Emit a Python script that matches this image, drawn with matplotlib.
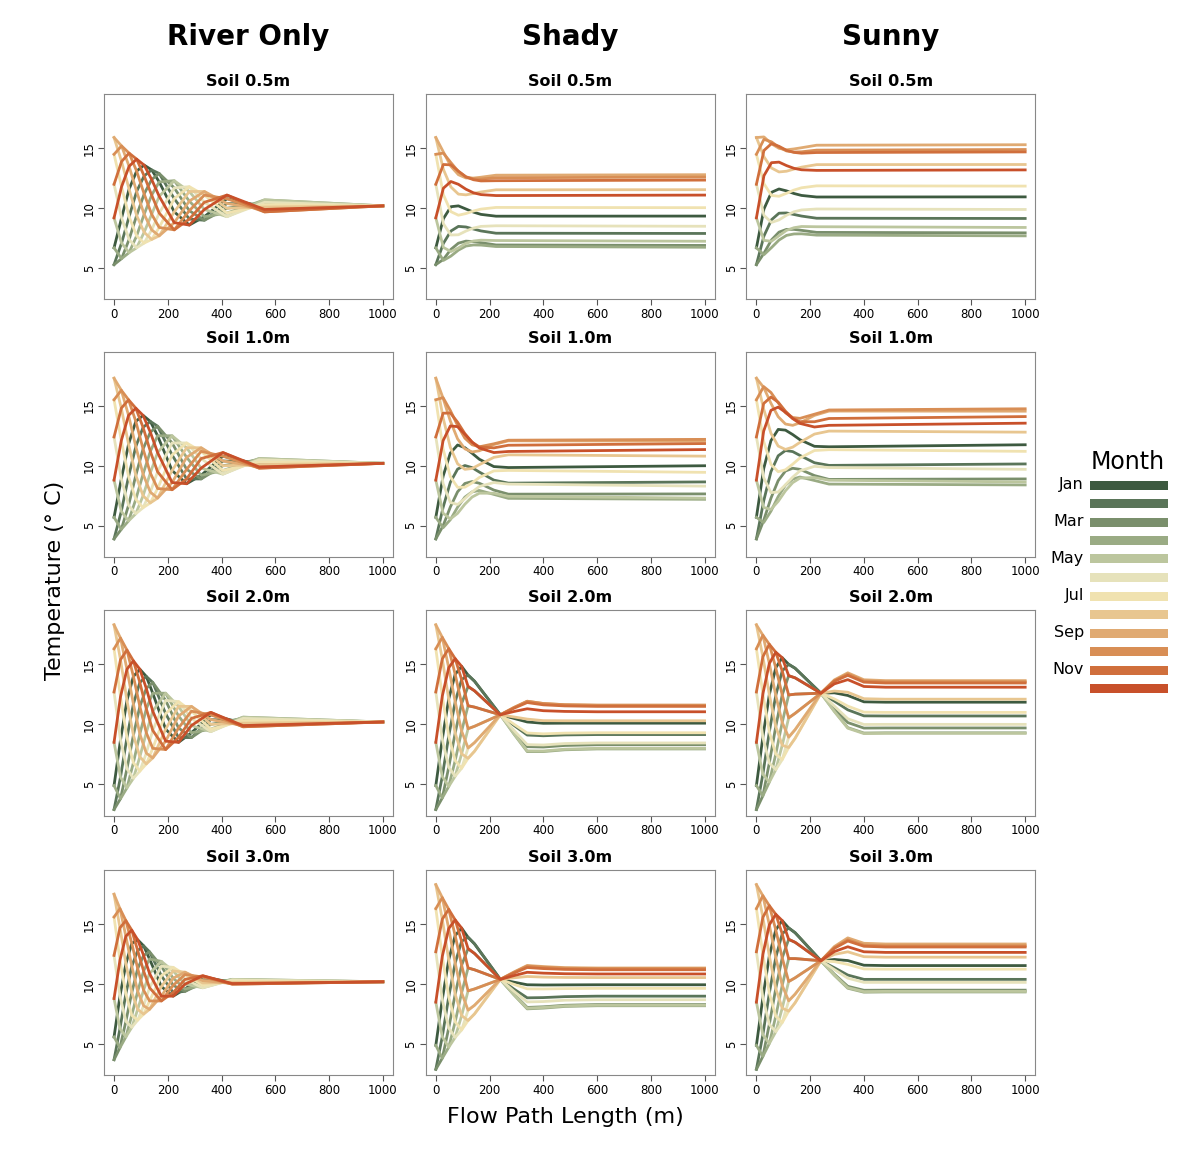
import numpy as np
import matplotlib
matplotlib.use("Agg")
import matplotlib.pyplot as plt
from matplotlib.patches import Rectangle

months = ["Jan", "Feb", "Mar", "Apr", "May", "Jun", "Jul", "Aug", "Sep", "Oct", "Nov", "Dec"]
month_colors = ["#3d5a40", "#5a7559", "#7a8f6c", "#9aab84", "#bcc69e", "#e6e2bb",
                "#f0e2b0", "#e8c690", "#e0aa72", "#d88e55", "#d06f3c", "#c8502a"]
depths = ["Soil 0.5m", "Soil 1.0m", "Soil 2.0m", "Soil 3.0m"]
columns = ["River Only", "Shady", "Sunny"]

# ---- River Only: temperature profiles, one list per distance (Jan..Dec) ----
x_ro05 = [0, 28, 56, 84, 112, 140, 168, 224, 280, 336, 420, 560, 1000]
ro05 = [
    [6.7, 5.3, 5.3, 6.7, 9.2, 12.0, 14.5, 15.9, 15.9, 14.5, 12.0, 9.2],
    [9.2, 7.1, 5.8, 5.8, 7.1, 9.2, 11.8, 13.9, 15.2, 15.2, 13.9, 11.8],
    [11.6, 9.3, 7.4, 6.3, 6.3, 7.4, 9.3, 11.6, 13.5, 14.6, 14.6, 13.5],
    [13.1, 11.4, 9.4, 7.7, 6.7, 6.7, 7.7, 9.4, 11.4, 13.1, 14.1, 14.1],
    [13.6, 12.7, 11.2, 9.5, 8.0, 7.1, 7.1, 8.0, 9.5, 11.2, 12.7, 13.6],
    [13.2, 13.2, 12.4, 11.1, 9.5, 8.2, 7.4, 7.4, 8.2, 9.5, 11.1, 12.4],
    [12.2, 12.9, 12.9, 12.2, 11.0, 9.6, 8.4, 7.7, 7.7, 8.4, 9.6, 11.0],
    [9.7, 10.8, 11.7, 12.3, 12.3, 11.7, 10.8, 9.7, 8.8, 8.2, 8.2, 8.8],
    [8.6, 9.1, 9.8, 10.6, 11.4, 11.8, 11.8, 11.4, 10.6, 9.8, 9.1, 8.6],
    [9.3, 9.0, 9.0, 9.3, 9.9, 10.5, 11.1, 11.4, 11.4, 11.1, 10.5, 9.9],
    [10.8, 10.4, 10.0, 9.6, 9.3, 9.3, 9.6, 10.0, 10.4, 10.8, 11.1, 11.1],
    [10.1, 10.3, 10.5, 10.7, 10.7, 10.5, 10.3, 10.1, 9.9, 9.7, 9.7, 9.9],
    [10.2] * 12,
]
x_ro10 = [0, 27, 54, 81, 108, 135, 162, 216, 270, 324, 405, 540, 1000]
ro10 = [
    [5.7, 3.9, 3.9, 5.7, 8.8, 12.4, 15.5, 17.3, 17.3, 15.5, 12.4, 8.8],
    [8.9, 6.2, 4.7, 4.7, 6.2, 8.9, 12.1, 14.8, 16.3, 16.3, 14.8, 12.1],
    [11.8, 9.1, 6.7, 5.4, 5.4, 6.7, 9.1, 11.8, 14.2, 15.5, 15.5, 14.2],
    [13.7, 11.6, 9.2, 7.2, 6.0, 6.0, 7.2, 9.2, 11.6, 13.7, 14.8, 14.8],
    [14.2, 13.2, 11.4, 9.3, 7.5, 6.5, 6.5, 7.5, 9.3, 11.4, 13.2, 14.2],
    [13.7, 13.7, 12.8, 11.2, 9.4, 7.8, 6.9, 6.9, 7.8, 9.4, 11.2, 12.8],
    [12.5, 13.3, 13.3, 12.5, 11.1, 9.5, 8.1, 7.3, 7.3, 8.1, 9.5, 11.1],
    [9.6, 10.9, 11.9, 12.5, 12.5, 11.9, 10.9, 9.6, 8.6, 8.0, 8.0, 8.6],
    [8.5, 8.9, 9.7, 10.7, 11.5, 11.9, 11.9, 11.5, 10.7, 9.7, 8.9, 8.5],
    [9.2, 8.9, 8.9, 9.2, 9.8, 10.6, 11.2, 11.5, 11.5, 11.2, 10.6, 9.8],
    [10.8, 10.4, 10.0, 9.6, 9.3, 9.3, 9.6, 10.0, 10.4, 10.8, 11.1, 11.1],
    [10.1, 10.3, 10.5, 10.6, 10.6, 10.5, 10.3, 10.1, 9.9, 9.8, 9.8, 9.9],
    [10.2] * 12,
]
x_ro20 = [0, 24, 48, 72, 96, 120, 144, 192, 240, 288, 360, 480, 1000]
ro20 = [
    [4.9, 2.9, 2.9, 4.9, 8.5, 12.7, 16.3, 18.3, 18.3, 16.3, 12.7, 8.5],
    [8.7, 5.6, 3.8, 3.8, 5.6, 8.7, 12.3, 15.4, 17.2, 17.2, 15.4, 12.3],
    [12.0, 8.9, 6.3, 4.7, 4.7, 6.3, 8.9, 12.0, 14.6, 16.2, 16.2, 14.6],
    [14.0, 11.7, 9.1, 6.8, 5.5, 5.5, 6.8, 9.1, 11.7, 14.0, 15.3, 15.3],
    [14.6, 13.5, 11.5, 9.2, 7.3, 6.1, 6.1, 7.3, 9.2, 11.5, 13.5, 14.6],
    [14.0, 14.0, 13.0, 11.3, 9.3, 7.6, 6.7, 6.7, 7.6, 9.3, 11.3, 13.0],
    [12.6, 13.5, 13.5, 12.6, 11.1, 9.5, 8.0, 7.2, 7.2, 8.0, 9.5, 11.1],
    [9.6, 10.9, 12.0, 12.6, 12.6, 12.0, 10.9, 9.6, 8.6, 7.9, 7.9, 8.6],
    [8.5, 8.9, 9.7, 10.7, 11.5, 11.9, 11.9, 11.5, 10.7, 9.7, 8.9, 8.5],
    [9.3, 8.9, 8.9, 9.3, 9.9, 10.5, 11.1, 11.5, 11.5, 11.1, 10.5, 9.9],
    [10.8, 10.4, 10.0, 9.6, 9.4, 9.4, 9.6, 10.0, 10.4, 10.8, 11.0, 11.0],
    [10.1, 10.3, 10.5, 10.6, 10.6, 10.5, 10.3, 10.1, 9.9, 9.8, 9.8, 9.9],
    [10.2] * 12,
]
x_ro30 = [0, 22, 44, 66, 88, 110, 132, 176, 220, 264, 330, 440, 1000]
ro30 = [
    [5.6, 3.7, 3.7, 5.6, 8.8, 12.4, 15.6, 17.5, 17.5, 15.6, 12.4, 8.8],
    [9.0, 6.3, 4.7, 4.7, 6.3, 9.0, 12.0, 14.7, 16.3, 16.3, 14.7, 12.0],
    [11.7, 9.2, 6.9, 5.6, 5.6, 6.9, 9.2, 11.7, 14.0, 15.3, 15.3, 14.0],
    [13.4, 11.5, 9.3, 7.4, 6.4, 6.4, 7.4, 9.3, 11.5, 13.4, 14.5, 14.5],
    [13.7, 12.8, 11.3, 9.4, 7.9, 7.0, 7.0, 7.9, 9.4, 11.3, 12.8, 13.7],
    [13.2, 13.2, 12.4, 11.1, 9.5, 8.2, 7.5, 7.5, 8.2, 9.5, 11.1, 12.4],
    [12.1, 12.7, 12.7, 12.1, 10.9, 9.7, 8.6, 7.9, 7.9, 8.6, 9.7, 10.9],
    [9.8, 10.7, 11.5, 11.9, 11.9, 11.5, 10.7, 9.8, 9.0, 8.6, 8.6, 9.0],
    [9.0, 9.3, 9.9, 10.5, 11.1, 11.4, 11.4, 11.1, 10.5, 9.9, 9.3, 9.0],
    [9.6, 9.4, 9.4, 9.6, 10.0, 10.4, 10.8, 11.0, 11.0, 10.8, 10.4, 10.0],
    [10.6, 10.3, 10.1, 9.9, 9.7, 9.7, 9.9, 10.1, 10.3, 10.6, 10.7, 10.7],
    [10.15, 10.25, 10.35, 10.4, 10.4, 10.35, 10.25, 10.15, 10.05, 10.0, 10.0, 10.05],
    [10.2] * 12,
]

# ---- Shady / Sunny: one row per month (Jan..Dec) ----
x_s05 = [0, 28, 56, 84, 112, 140, 168, 224, 1000]
shady05 = [
    [6.7, 9.13, 10.13, 10.2, 9.94, 9.68, 9.49, 9.34, 9.35],
    [5.3, 7.07, 8.1, 8.49, 8.44, 8.27, 8.11, 7.92, 7.9],
    [5.3, 5.73, 6.57, 7.09, 7.26, 7.22, 7.13, 6.94, 6.9],
    [6.7, 5.65, 6.01, 6.51, 6.85, 6.94, 6.93, 6.81, 6.75],
    [9.2, 6.74, 6.39, 6.69, 7.08, 7.27, 7.34, 7.31, 7.25],
    [12.0, 8.71, 7.77, 7.79, 8.1, 8.35, 8.49, 8.54, 8.5],
    [14.5, 11.14, 9.72, 9.42, 9.56, 9.77, 9.93, 10.07, 10.05],
    [15.9, 13.25, 11.78, 11.18, 11.12, 11.23, 11.36, 11.54, 11.55],
    [15.9, 14.7, 13.5, 12.8, 12.53, 12.52, 12.59, 12.76, 12.8],
    [14.5, 14.6, 13.81, 13.06, 12.62, 12.46, 12.44, 12.55, 12.6],
    [12.0, 13.65, 13.62, 13.1, 12.62, 12.38, 12.28, 12.3, 12.35],
    [9.2, 11.67, 12.23, 12.0, 11.59, 11.29, 11.14, 11.06, 11.1],
]
sunny05 = [
    [6.7, 9.94, 11.33, 11.61, 11.45, 11.23, 11.07, 10.94, 10.95],
    [5.3, 7.69, 9.04, 9.59, 9.61, 9.48, 9.35, 9.17, 9.15],
    [5.3, 6.25, 7.36, 8.01, 8.24, 8.24, 8.16, 7.99, 7.95],
    [6.7, 6.13, 6.72, 7.35, 7.74, 7.86, 7.87, 7.76, 7.7],
    [9.2, 7.32, 7.25, 7.71, 8.16, 8.38, 8.48, 8.46, 8.4],
    [12.0, 9.41, 8.82, 9.03, 9.42, 9.71, 9.86, 9.94, 9.9],
    [14.5, 12.05, 11.07, 11.0, 11.25, 11.52, 11.71, 11.87, 11.85],
    [15.9, 14.3, 13.36, 13.03, 13.09, 13.27, 13.43, 13.64, 13.65],
    [15.9, 15.95, 15.38, 15.0, 14.88, 14.95, 15.05, 15.26, 15.3],
    [14.5, 15.75, 15.54, 15.09, 14.78, 14.69, 14.71, 14.85, 14.9],
    [12.0, 14.82, 15.39, 15.17, 14.83, 14.66, 14.59, 14.65, 14.7],
    [9.2, 12.72, 13.8, 13.85, 13.56, 13.33, 13.21, 13.16, 13.2],
]
x_s10 = [0, 27, 54, 81, 108, 135, 162, 216, 270, 1000]
shady10 = [
    [5.7, 9.12, 11.06, 11.73, 11.51, 11.04, 10.54, 9.93, 9.85, 10.0],
    [3.9, 6.52, 8.62, 9.72, 10.02, 9.84, 9.47, 8.8, 8.55, 8.65],
    [3.9, 4.99, 6.56, 7.83, 8.52, 8.68, 8.54, 7.97, 7.63, 7.65],
    [5.7, 4.83, 5.5, 6.54, 7.38, 7.82, 7.94, 7.61, 7.28, 7.2],
    [8.8, 6.04, 5.56, 6.03, 6.79, 7.39, 7.71, 7.71, 7.45, 7.3],
    [12.4, 8.51, 6.94, 6.77, 7.25, 7.81, 8.27, 8.6, 8.47, 8.3],
    [15.5, 11.41, 9.09, 8.2, 8.21, 8.57, 9.02, 9.57, 9.61, 9.45],
    [17.3, 14.01, 11.53, 10.16, 9.7, 9.77, 10.09, 10.7, 10.91, 10.8],
    [17.3, 15.63, 13.73, 12.24, 11.41, 11.15, 11.25, 11.77, 12.08, 12.05],
    [15.5, 15.68, 14.61, 13.36, 12.3, 11.75, 11.58, 11.83, 12.13, 12.2],
    [12.4, 14.38, 14.4, 13.63, 12.68, 11.96, 11.57, 11.49, 11.71, 11.85],
    [8.8, 12.09, 13.32, 13.26, 12.63, 11.97, 11.48, 11.1, 11.19, 11.35],
]
sunny10 = [
    [5.7, 9.75, 12.09, 13.03, 12.97, 12.6, 12.17, 11.62, 11.58, 11.75],
    [3.9, 7.06, 9.5, 10.83, 11.27, 11.18, 10.86, 10.25, 10.03, 10.15],
    [3.9, 5.44, 7.29, 8.76, 9.56, 9.79, 9.7, 9.18, 8.86, 8.9],
    [5.7, 5.26, 6.21, 7.43, 8.38, 8.89, 9.06, 8.77, 8.47, 8.4],
    [8.8, 6.52, 6.36, 7.03, 7.91, 8.59, 8.97, 9.02, 8.79, 8.65],
    [12.4, 9.01, 7.76, 7.81, 8.41, 9.05, 9.57, 9.95, 9.85, 9.7],
    [15.5, 12.04, 10.12, 9.5, 9.66, 10.13, 10.65, 11.27, 11.34, 11.2],
    [17.3, 14.73, 12.71, 11.64, 11.36, 11.55, 11.95, 12.64, 12.89, 12.8],
    [17.3, 16.53, 15.21, 14.09, 13.48, 13.37, 13.58, 14.2, 14.56, 14.55],
    [15.5, 16.6, 16.11, 15.25, 14.42, 14.02, 13.95, 14.3, 14.65, 14.75],
    [12.4, 15.19, 15.73, 15.3, 14.55, 13.96, 13.67, 13.67, 13.94, 14.1],
    [8.8, 12.89, 14.62, 14.89, 14.46, 13.93, 13.53, 13.23, 13.37, 13.55],
]
x_deep = [0, 24, 48, 72, 96, 120, 144, 168, 192, 216, 240, 290, 340, 400, 480, 600, 1000]
shady20 = [
    [4.9, 8.76, 12.12, 14.18, 14.84, 14.11, 13.6, 12.9, 12.2, 11.5, 10.8, 10.5, 10.2, 10.09, 10.1, 10.1, 10.1],
    [2.9, 5.66, 9.02, 11.88, 13.74, 14.11, 13.6, 12.9, 12.2, 11.5, 10.8, 9.93, 9.11, 9.05, 9.12, 9.15, 9.15],
    [2.9, 3.86, 6.42, 9.28, 11.74, 13.16, 12.8, 12.3, 11.8, 11.3, 10.8, 9.42, 8.14, 8.11, 8.24, 8.3, 8.3],
    [4.9, 3.86, 4.82, 6.98, 9.44, 11.55, 11.44, 11.28, 11.12, 10.96, 10.8, 9.21, 7.73, 7.73, 7.88, 7.95, 7.95],
    [8.5, 5.66, 4.82, 5.68, 7.54, 9.64, 9.84, 10.08, 10.32, 10.56, 10.8, 9.24, 7.79, 7.78, 7.93, 8.0, 8.0],
    [12.7, 8.76, 6.42, 5.68, 6.34, 8.03, 8.48, 9.06, 9.64, 10.22, 10.8, 9.51, 8.31, 8.28, 8.4, 8.45, 8.45],
    [16.3, 12.36, 9.02, 6.98, 6.34, 7.17, 7.76, 8.52, 9.28, 10.04, 10.8, 10.02, 9.28, 9.21, 9.27, 9.3, 9.3],
    [18.3, 15.46, 12.12, 9.28, 7.54, 7.17, 7.76, 8.52, 9.28, 10.04, 10.8, 10.62, 10.44, 10.31, 10.3, 10.3, 10.3],
    [18.3, 17.26, 14.72, 11.88, 9.44, 8.03, 8.48, 9.06, 9.64, 10.22, 10.8, 11.4, 11.93, 11.74, 11.64, 11.6, 11.6],
    [16.3, 17.26, 16.32, 14.18, 11.74, 9.64, 9.84, 10.08, 10.32, 10.56, 10.8, 11.4, 11.93, 11.74, 11.64, 11.6, 11.6],
    [12.7, 15.46, 16.32, 15.48, 13.74, 11.55, 11.44, 11.28, 11.12, 10.96, 10.8, 11.34, 11.82, 11.63, 11.54, 11.5, 11.5],
    [8.5, 12.36, 14.72, 15.48, 14.84, 13.16, 12.8, 12.3, 11.8, 11.3, 10.8, 11.07, 11.3, 11.14, 11.08, 11.05, 11.05],
]
sunny20 = [
    [4.9, 8.94, 12.48, 14.72, 15.56, 15.01, 14.68, 14.16, 13.64, 13.12, 12.6, 12.63, 12.41, 11.88, 11.85, 11.85, 11.85],
    [2.9, 5.84, 9.38, 12.42, 14.46, 15.01, 14.68, 14.16, 13.64, 13.12, 12.6, 11.94, 11.21, 10.71, 10.7, 10.7, 10.7],
    [2.9, 4.04, 6.78, 9.82, 12.46, 14.06, 13.88, 13.56, 13.24, 12.92, 12.6, 11.34, 10.15, 9.69, 9.7, 9.7, 9.7],
    [4.9, 4.04, 5.18, 7.52, 10.16, 12.45, 12.52, 12.54, 12.56, 12.58, 12.6, 11.1, 9.73, 9.28, 9.3, 9.3, 9.3],
    [8.5, 5.84, 5.18, 6.22, 8.26, 10.54, 10.92, 11.34, 11.76, 12.18, 12.6, 11.07, 9.68, 9.23, 9.25, 9.25, 9.25],
    [12.7, 8.94, 6.78, 6.22, 7.06, 8.93, 9.56, 10.32, 11.08, 11.84, 12.6, 11.52, 10.47, 9.99, 10.0, 10.0, 10.0],
    [16.3, 12.54, 9.38, 7.52, 7.06, 8.07, 8.84, 9.78, 10.72, 11.66, 12.6, 12.12, 11.52, 11.02, 11.0, 11.0, 11.0],
    [18.3, 15.64, 12.48, 9.82, 8.26, 8.07, 8.84, 9.78, 10.72, 11.66, 12.6, 12.78, 12.68, 12.14, 12.1, 12.1, 12.1],
    [18.3, 17.44, 15.08, 12.42, 10.16, 8.93, 9.56, 10.32, 11.08, 11.84, 12.6, 13.71, 14.3, 13.72, 13.65, 13.65, 13.65],
    [16.3, 17.44, 16.68, 14.72, 12.46, 10.54, 10.92, 11.34, 11.76, 12.18, 12.6, 13.65, 14.2, 13.62, 13.55, 13.55, 13.55],
    [12.7, 15.64, 16.68, 16.02, 14.46, 12.45, 12.52, 12.54, 12.56, 12.58, 12.6, 13.59, 14.09, 13.52, 13.45, 13.45, 13.45],
    [8.5, 12.54, 15.08, 16.02, 15.56, 14.06, 13.88, 13.56, 13.24, 12.92, 12.6, 13.38, 13.73, 13.16, 13.1, 13.1, 13.1],
]
shady30 = [
    [4.9, 8.72, 12.04, 14.06, 14.68, 13.91, 13.36, 12.62, 11.88, 11.14, 10.4, 10.17, 9.95, 9.93, 9.94, 9.95, 9.95],
    [2.9, 5.62, 8.94, 11.76, 13.58, 13.91, 13.36, 12.62, 11.88, 11.14, 10.4, 9.6, 8.86, 8.88, 8.96, 9.0, 9.0],
    [2.9, 3.82, 6.34, 9.16, 11.58, 12.96, 12.56, 12.02, 11.48, 10.94, 10.4, 9.18, 8.06, 8.11, 8.24, 8.3, 8.3],
    [4.9, 3.82, 4.74, 6.86, 9.28, 11.35, 11.2, 11.0, 10.8, 10.6, 10.4, 9.12, 7.94, 8.0, 8.14, 8.2, 8.2],
    [8.5, 5.62, 4.74, 5.56, 7.38, 9.44, 9.6, 9.8, 10.0, 10.2, 10.4, 9.15, 8.0, 8.06, 8.19, 8.25, 8.25],
    [12.7, 8.72, 6.34, 5.56, 6.18, 7.83, 8.24, 8.78, 9.32, 9.86, 10.4, 9.42, 8.52, 8.55, 8.66, 8.7, 8.7],
    [16.3, 12.32, 8.94, 6.86, 6.18, 6.97, 7.52, 8.24, 8.96, 9.68, 10.4, 9.99, 9.61, 9.6, 9.63, 9.65, 9.65],
    [18.3, 15.42, 12.04, 9.16, 7.38, 6.97, 7.52, 8.24, 8.96, 9.68, 10.4, 10.53, 10.64, 10.59, 10.56, 10.55, 10.55],
    [18.3, 17.22, 14.64, 11.76, 9.28, 7.83, 8.24, 8.78, 9.32, 9.86, 10.4, 11.01, 11.56, 11.47, 11.38, 11.35, 11.35],
    [16.3, 17.22, 16.24, 14.06, 11.58, 9.44, 9.6, 9.8, 10.0, 10.2, 10.4, 10.98, 11.51, 11.41, 11.33, 11.3, 11.3],
    [12.7, 15.42, 16.24, 15.36, 13.58, 11.35, 11.2, 11.0, 10.8, 10.6, 10.4, 10.92, 11.39, 11.3, 11.23, 11.2, 11.2],
    [8.5, 12.32, 14.64, 15.36, 14.68, 12.96, 12.56, 12.02, 11.48, 10.94, 10.4, 10.71, 10.99, 10.92, 10.87, 10.85, 10.85],
]
sunny30 = [
    [4.9, 8.88, 12.35, 14.53, 15.3, 14.69, 14.29, 13.71, 13.12, 12.54, 11.95, 12.06, 11.97, 11.58, 11.55, 11.55, 11.55],
    [2.9, 5.78, 9.25, 12.23, 14.2, 14.69, 14.29, 13.71, 13.12, 12.54, 11.95, 11.37, 10.76, 10.4, 10.4, 10.4, 10.4],
    [2.9, 3.98, 6.65, 9.63, 12.2, 13.74, 13.49, 13.11, 12.72, 12.34, 11.95, 10.83, 9.82, 9.49, 9.5, 9.5, 9.5],
    [4.9, 3.98, 5.05, 7.33, 9.9, 12.13, 12.13, 12.09, 12.04, 12.0, 11.95, 10.74, 9.66, 9.33, 9.35, 9.35, 9.35],
    [8.5, 5.78, 5.05, 6.03, 8.0, 10.22, 10.53, 10.89, 11.24, 11.6, 11.95, 10.77, 9.71, 9.38, 9.4, 9.4, 9.4],
    [12.7, 8.88, 6.65, 6.03, 6.8, 8.61, 9.17, 9.87, 10.56, 11.26, 11.95, 11.22, 10.5, 10.15, 10.15, 10.15, 10.15],
    [16.3, 12.48, 9.25, 7.33, 6.8, 7.75, 8.45, 9.33, 10.2, 11.08, 11.95, 11.88, 11.65, 11.27, 11.25, 11.25, 11.25],
    [18.3, 15.58, 12.35, 9.63, 8.0, 7.75, 8.45, 9.33, 10.2, 11.08, 11.95, 12.48, 12.7, 12.29, 12.25, 12.25, 12.25],
    [18.3, 17.38, 14.95, 12.23, 9.9, 8.61, 9.17, 9.87, 10.56, 11.26, 11.95, 13.14, 13.86, 13.41, 13.35, 13.35, 13.35],
    [16.3, 17.38, 16.55, 14.53, 12.2, 10.22, 10.53, 10.89, 11.24, 11.6, 11.95, 13.05, 13.7, 13.26, 13.2, 13.2, 13.2],
    [12.7, 15.58, 16.55, 15.83, 14.2, 12.13, 12.13, 12.09, 12.04, 12.0, 11.95, 12.99, 13.6, 13.16, 13.1, 13.1, 13.1],
    [8.5, 12.48, 14.95, 15.83, 15.3, 13.74, 13.49, 13.11, 12.72, 12.34, 11.95, 12.72, 13.12, 12.7, 12.65, 12.65, 12.65],
]

# panel grid: (x, rows by month)
panels = [
    [(x_ro05, np.array(ro05).T), (x_s05, np.array(shady05)), (x_s05, np.array(sunny05))],
    [(x_ro10, np.array(ro10).T), (x_s10, np.array(shady10)), (x_s10, np.array(sunny10))],
    [(x_ro20, np.array(ro20).T), (x_deep, np.array(shady20)), (x_deep, np.array(sunny20))],
    [(x_ro30, np.array(ro30).T), (x_deep, np.array(shady30)), (x_deep, np.array(sunny30))],
]

fig = plt.figure(figsize=(11.83, 11.65), dpi=100)
lefts = [0.088, 0.360, 0.631]
bottoms = [0.743, 0.522, 0.300, 0.077]
w, h = 0.244, 0.176

for r in range(4):
    for c in range(3):
        ax = fig.add_axes([lefts[c], bottoms[r], w, h])
        xs, rows = panels[r][c]
        for m in range(12):
            ax.plot(xs, rows[m], color=month_colors[m], lw=2.0, solid_joinstyle="round")
        ax.set_xlim(-37, 1037)
        ax.set_ylim(2.4, 19.5)
        ax.set_xticks([0, 200, 400, 600, 800, 1000])
        ax.set_yticks([5, 10, 15])
        ax.tick_params(axis="x", labelsize=8.5, length=4, color="#555555", pad=2)
        ax.tick_params(axis="y", labelsize=8.5, length=4, color="#555555", labelrotation=90, pad=2)
        for lab in ax.get_yticklabels():
            lab.set_va("center")
        for s in ax.spines.values():
            s.set_color("#888888")
        ax.set_title(depths[r], fontsize=11.5, fontweight="bold", pad=6)

for c, name in enumerate(columns):
    fig.text(lefts[c] + w / 2, 1 - 37 / 1165, name, ha="center", va="center",
             fontsize=20, fontweight="bold")

fig.text(55 / 1183, 1 - 580 / 1165, "Temperature (° C)", rotation=90, ha="center",
         va="center", fontsize=16)
fig.text(565 / 1183, 1 - 1117 / 1165, "Flow Path Length (m)", ha="center",
         va="center", fontsize=16)

# month legend
fig.text(1128 / 1183, 1 - 462 / 1165, "Month", ha="center", va="center", fontsize=17)
for m in range(12):
    yc = 485 + m * 18.5
    fig.patches.append(Rectangle((1090 / 1183, 1 - (yc + 4.5) / 1165), 78 / 1183, 9 / 1165,
                                 transform=fig.transFigure, facecolor=month_colors[m],
                                 edgecolor="none"))
    if m % 2 == 0:
        fig.text(1084 / 1183, 1 - yc / 1165, months[m], ha="right", va="center", fontsize=11.5)

fig.savefig("out.png", dpi=100)
